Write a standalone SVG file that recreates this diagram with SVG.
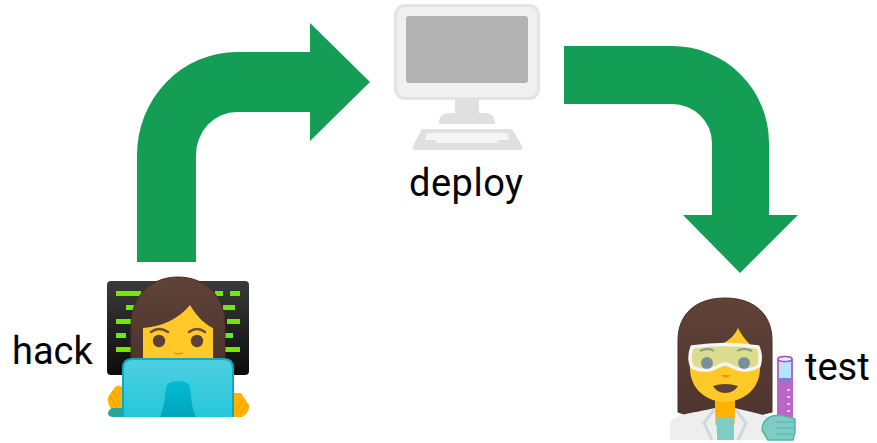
<svg xmlns="http://www.w3.org/2000/svg" width="877" height="443" viewBox="0 0 877 443">
<style>
.lbl{font-family:Roboto,"Liberation Sans",sans-serif;font-size:38px;fill:#000}
.arrow{fill:#149e55}
.crt{fill:#6fe80a}
.brow{fill:none;stroke:#6d4c41;stroke-width:2.5;stroke-linecap:round}
.fing{fill:none;stroke:#e59600;stroke-width:1}
</style>
<defs>
<linearGradient id="scr" x1="0" y1="0" x2="0" y2="1"><stop offset="0" stop-color="#4dd0e1"/><stop offset="1" stop-color="#26c6da"/></linearGradient>
<linearGradient id="notch" x1="0" y1="0" x2="0" y2="1"><stop offset="0" stop-color="#00bcd4"/><stop offset="1" stop-color="#00a5bb"/></linearGradient>
<linearGradient id="mon" x1="0" y1="0" x2="0" y2="1"><stop offset="0" stop-color="#3a3a3a"/><stop offset="1" stop-color="#0c0c0c"/></linearGradient>
<linearGradient id="hair" x1="0" y1="0" x2="0" y2="1"><stop offset="0" stop-color="#5f4338"/><stop offset="1" stop-color="#4e342e"/></linearGradient>
</defs>
<g id="connectors">
<path class="arrow" d="M137 262V155A100 103 0 0 1 237 52H310V23L370 82L310 141V112H237A41 43 0 0 0 196 155V262Z"/>
<path class="arrow" d="M564 46H672A97 97 0 0 1 769 143V215H798L740 273L683 215H712V143A40 39 0 0 0 672 104H564Z"/>
</g>
<g id="deploy">
<rect x="394" y="4" width="146" height="96" rx="11" fill="#e3e3e3"/>
<rect x="397" y="7" width="140" height="90" rx="8" fill="#f0f0f0"/>
<rect x="406" y="16" width="122" height="67" rx="3" fill="#b3b3b3"/>
<rect x="455" y="100" width="24" height="14" fill="#e0e0e0"/>
<path d="M439 124V122C439 116 444 113 449 113H485C490 113 495 116 495 122V124Z" fill="#e0e0e0"/>
<path d="M422 129H512L522 146Q524 150 520 150H415Q411 150 413 146Z" fill="#e0e0e0"/>
<path d="M427 133H507L509 140H498L497 143H437L436 140H425Z" fill="#f5f5f5"/>
<text class="lbl" x="409" y="196" textLength="114">deploy</text>
</g>
<g id="hack">
<rect x="107" y="281" width="142" height="94" rx="4" fill="url(#mon)"/>
<rect class="crt" x="116" y="291" width="25" height="5"/><rect class="crt" x="126" y="305" width="8" height="5"/>
<rect class="crt" x="116" y="319" width="15" height="5"/><rect class="crt" x="116" y="333" width="10" height="5"/>
<rect class="crt" x="116" y="347" width="15" height="5"/><rect class="crt" x="230" y="291" width="10" height="5"/>
<rect class="crt" x="215" y="291" width="8" height="5"/><rect class="crt" x="223" y="305" width="12" height="5"/>
<rect class="crt" x="227" y="319" width="13" height="5"/><rect class="crt" x="225" y="333" width="8" height="5"/>
<rect class="crt" x="225" y="347" width="15" height="5"/>
<path d="M131 360V325C131 297 150 277 178 277C206 277 225 297 225 325V360Z" fill="url(#hair)" stroke="#4a2f27" stroke-width="1"/>
<path d="M143 360V328C160 327 178 320 190 305C197 317 206 325 213 328V360Z" fill="#ffca28"/>
<path class="brow" d="M151 332Q159 326 168 332"/>
<path class="brow" d="M189 332Q197 326 205 332"/>
<circle cx="159" cy="341" r="6.2" fill="#5d4037"/><circle cx="197" cy="341" r="6.2" fill="#5d4037"/>
<path d="M174 353Q178 355 183 353" fill="none" stroke="#e59600" stroke-width="1.5"/>
<path d="M108 402Q107 398 110 394L115 387Q119 384 122 387V410L115 412Q110 410 108 402Z" fill="#ffb300"/>
<path class="fing" d="M110 396L117 408M113 391L120 405"/>
<path d="M249 405Q250 409 246 414L242 417H234V393L241 393Z" fill="#ffb300"/>
<path class="fing" d="M247 404L240 414M243 399L237 410"/>
<path d="M122 408H112Q108 410 108 414Q109 417 113 417H122Z" fill="#26a69a"/>
<path d="M122 417V368Q122 358 132 358H224Q234 358 234 368V417Z" fill="#12a9bd"/>
<path d="M124 417V369Q124 360 133 360H223Q232 360 232 369V417Z" fill="url(#scr)"/>
<path d="M160 417C165 405 165 395 166 388Q167 381 178 381Q189 381 190 388C191 395 191 405 196 417Z" fill="url(#notch)"/>
<text class="lbl" x="12" y="364">hack</text>
</g>
<g id="test">
<path d="M678 412V340C678 315 695 298 725 298C755 298 772 315 772 340V412L740 420H700Z" fill="url(#hair)" stroke="#4a2f27" stroke-width="1"/>
<rect x="715" y="395" width="20" height="30" fill="#ffb300"/>
<path d="M690 352C715 350 732 342 738 328C743 338 752 348 760 352V368C760 390 742 402 725 402C708 402 690 390 690 368Z" fill="#ffca28"/>
<path d="M692 347Q725 342 758 347Q762 356 759 366Q745 374 731 366Q725 362 719 366Q705 374 692 367Q688 358 692 347Z" fill="#dcdc8e" stroke="#f5f5f5" stroke-width="3.5"/>
<circle cx="707" cy="363" r="6" fill="#78909c"/><circle cx="744" cy="363" r="6" fill="#78909c"/>
<path d="M700 351Q708 347 714 351" fill="none" stroke="#8d9a8a" stroke-width="2"/><path d="M737 351Q744 347 752 351" fill="none" stroke="#8d9a8a" stroke-width="2"/>
<path d="M721 375Q726 380 731 375Z" fill="#e59600"/>
<path d="M713 386Q725 382 738 386Q734 393 725 393Q717 393 713 386Z" fill="#5d4037"/>
<path d="M670 440V424C672 414 690 414 715 408L716 440ZM735 408C750 412 762 414 772 418L780 440H734Z" fill="#eeeeee"/>
<path d="M714 410L704 423L712 440M736 410L746 423L738 440" fill="none" stroke="#cfd8dc" stroke-width="3"/>
<path d="M716 418H734V440H717Z" fill="#80cbc4"/>
<path d="M777 360Q777 356 785 356Q793 356 793 360V420H777Z" fill="#ba68c8"/>
<path d="M779 361H791V378H779Z" fill="#b3e5fc"/>
<path d="M779 378H791V383H779Z" fill="#9575cd"/>
<path d="M787 390h3M787 397h3M787 404h3M787 411h3" stroke="#f3e5f5" stroke-width="1.5"/>
<ellipse cx="785" cy="359" rx="7" ry="2.5" fill="#e1f5fe" stroke="#ab47bc" stroke-width="1.5"/>
<path d="M762 430Q762 420 772 416L780 415L795 419V432L793 440H768Z" fill="#80cbc4" stroke="#4db6ac" stroke-width="1.5"/>
<path d="M776 422H794M776 428H794M776 434H793" stroke="#4db6ac" stroke-width="1"/>
<text class="lbl" x="805" y="380">test</text>
</g>
</svg>
